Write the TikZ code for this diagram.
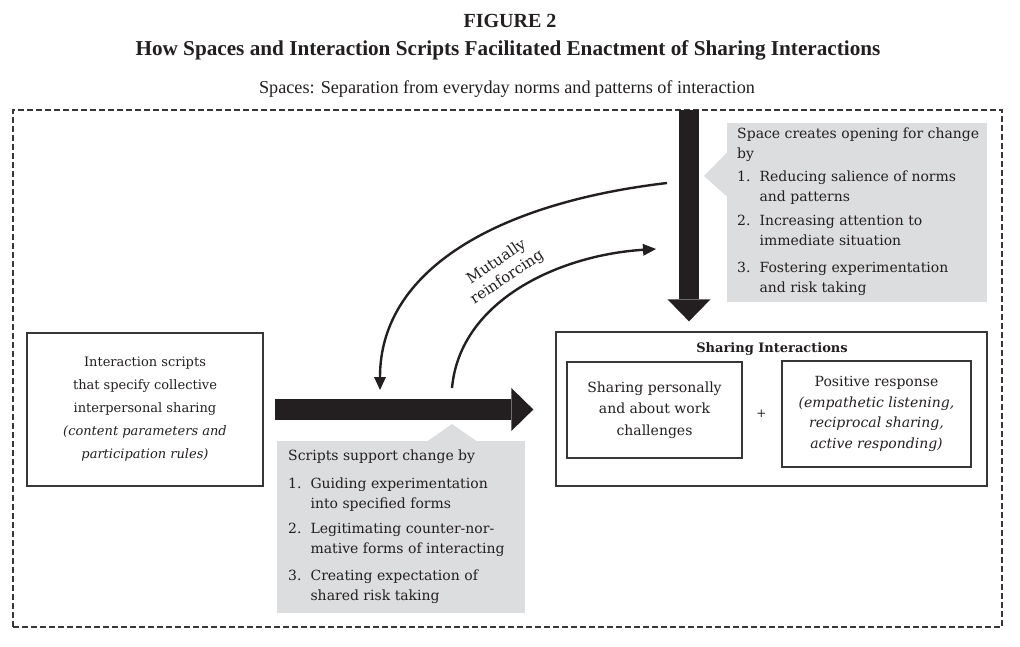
\documentclass[tikz,border=0pt]{standalone}
\usepackage{fontspec}
\setmainfont{DejaVu Serif}
\newfontfamily\titlefont{Liberation Serif}
\usetikzlibrary{arrows.meta}
\definecolor{ink}{RGB}{35,31,32}
\definecolor{boxgray}{RGB}{220,221,222}
\definecolor{framegray}{RGB}{55,55,55}
\tikzset{
  bodytext/.style={font=\fontsize{14}{19.5}\selectfont},
  plainbox/.style={draw=framegray, line width=1.3pt, inner sep=0pt},
  graybox/.style={fill=boxgray, draw=none, inner sep=0pt},
  bigarrow/.style={draw=ink, line width=20.5pt, -{Triangle[length=22pt,width=43pt,line width=0pt]}},
  curvearrow/.style={draw=ink, line width=2.4pt, -{Triangle[length=13pt,width=12pt,line width=0pt]}},
}
\newcommand{\gtab}[1]{\begin{tabular}{@{}l@{\hspace{9pt}}l@{}}#1\end{tabular}}
\begin{document}
\begin{tikzpicture}[x=1pt,y=-1pt, every node/.style={text=ink}]
\useasboundingbox (0,0) rectangle (1020,647);
\fill[white] (0,0) rectangle (1020,647);

% titles
\node[font=\titlefont\bfseries\fontsize{20}{22}\selectfont] (fig) at (510,21) {FIGURE 2};
\node[font=\titlefont\bfseries\fontsize{21.2}{24}\selectfont] (title) at (508,50) {How Spaces and Interaction Scripts Facilitated Enactment of Sharing Interactions};
\node[font=\titlefont\fontsize{18.2}{20}\selectfont] (spaces) at (507,89) {Spaces: Separation from everyday norms and patterns of interaction};

% outer dashed frame
\node[draw=framegray, line width=2pt, dash pattern=on 6pt off 3pt, minimum width=989pt, minimum height=517pt, inner sep=0pt] (outer) at (507.5,368.5) {};

% gray box top right
\node[graybox, minimum width=260pt, minimum height=179pt, anchor=north west] (spacebox) at (727,123) {};
\fill[boxgray] (727.5,152) -- (704,176) -- (727.5,197) -- cycle;
\node[bodytext, anchor=west, inner sep=0pt] (spacetext) at ([xshift=10pt,yshift=1pt]spacebox.west) {\gtab{%
\multicolumn{2}{@{}l@{}}{Space creates opening for change}\\
\multicolumn{2}{@{}l@{}}{by}\\[4pt]
1. & Reducing salience of norms\\
   & and patterns\\[5pt]
2. & Increasing attention to\\
   & immediate situation\\[8pt]
3. & Fostering experimentation\\
   & and risk taking}};

% scripts box
\node[plainbox, minimum width=236pt, minimum height=153pt, align=center, font=\fontsize{13}{23}\selectfont] (scripts) at (145,409.5) {Interaction scripts\\that specify collective\\interpersonal sharing\\\textit{(content parameters and}\\\textit{participation rules)}};

% sharing interactions
\node[plainbox, minimum width=431pt, minimum height=154pt] (sharing) at (771.5,409) {};
\node[font=\bfseries\fontsize{13}{16}\selectfont] (shtitle) at (772,349) {Sharing Interactions};
\node[plainbox, minimum width=175pt, minimum height=96pt, align=center, font=\fontsize{14}{21.5}\selectfont] (share1) at (654.5,410) {Sharing personally\\and about work\\challenges};
\node[plainbox, minimum width=189pt, minimum height=106pt, align=center, font=\fontsize{14}{20.5}\selectfont] (share2) at (876.5,414) {Positive response\\\textit{(empathetic listening,}\\\textit{reciprocal sharing,}\\\textit{active responding)}};
\node[font=\fontsize{12}{14}\selectfont] (plus) at (761.5,414) {+};

% gray box bottom
\node[graybox, minimum width=248pt, minimum height=172pt, anchor=north west] (scriptbox) at (277,441) {};
\fill[boxgray] (427,441.5) -- (452,424) -- (477,441.5) -- cycle;
\node[bodytext, anchor=west, inner sep=0pt] (scripttext) at ([xshift=11pt,yshift=1pt]scriptbox.west) {\gtab{%
\multicolumn{2}{@{}l@{}}{Scripts support change by}\\[9pt]
1. & Guiding experimentation\\
   & into specified forms\\[6pt]
2. & Legitimating counter-nor-\\
   & mative forms of interacting\\[8pt]
3. & Creating expectation of\\
   & shared risk taking}};

% big arrows
\coordinate (vtop) at (689,110);
\draw[bigarrow, shorten >=10pt] (vtop) -- (vtop |- sharing.north);
\draw[bigarrow, shorten <=11pt, shorten >=22pt] (scripts.east) -- (scripts.east -| sharing.west);

% curved arrows
\coordinate (c1s) at (667,183);
\coordinate (c1e) at (380,390);
\coordinate (c2s) at (452,388);
\coordinate (c2e) at (656,249);
\draw[curvearrow] (c1s) .. controls (497,203) and (380,270) .. (c1e);
\draw[curvearrow] (c2s) .. controls (460,300) and (560,255) .. (c2e);
\node[rotate=34, align=center, font=\fontsize{15}{19}\selectfont] (mutual) at (502,270) {Mutually\\reinforcing};
\end{tikzpicture}
\end{document}
